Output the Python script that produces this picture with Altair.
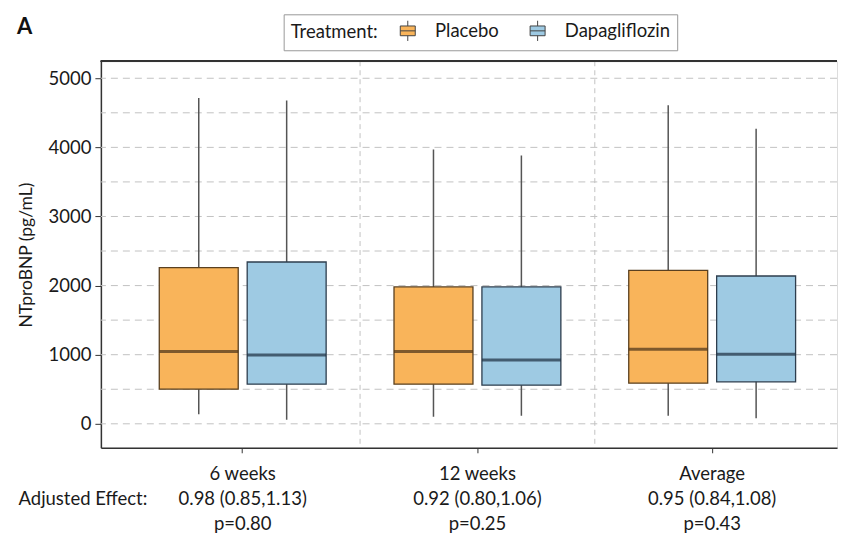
import altair as alt
import pandas as pd

times = ["6 weeks", "12 weeks", "Average"]
treatments = ["Placebo", "Dapagliflozin"]
effects = ["0.98 (0.85,1.13)", "0.92 (0.80,1.06)", "0.95 (0.84,1.08)"]
pvalues = ["p=0.80", "p=0.25", "p=0.43"]
panel_label = ["A"]

placebo_low = [140, 101, 116]
placebo_q1 = [501, 573, 588]
placebo_med = [1045, 1045, 1079]
placebo_q3 = [2259, 1980, 2221]
placebo_high = [4715, 3970, 4610]

dapa_low = [58, 116, 82]
dapa_q1 = [573, 559, 607]
dapa_med = [997, 925, 1007]
dapa_q3 = [2341, 1980, 2139]
dapa_high = [4678, 3883, 4268]

grid_values = [0, 500, 1000, 1500, 2000, 2500, 3000, 3500, 4000, 4500, 5000]
y_ticks = [0, 1000, 2000, 3000, 4000, 5000]
dividers = ["12 weeks", "Average"]

rows = []
for i, t in enumerate(times):
    rows.append(dict(Time=t, Treatment="Placebo", low=placebo_low[i], q1=placebo_q1[i],
                     med=placebo_med[i], q3=placebo_q3[i], high=placebo_high[i]))
    rows.append(dict(Time=t, Treatment="Dapagliflozin", low=dapa_low[i], q1=dapa_q1[i],
                     med=dapa_med[i], q3=dapa_q3[i], high=dapa_high[i]))
df = pd.DataFrame(rows)
grid_df = pd.DataFrame({"g": grid_values})
div_df = pd.DataFrame({"Time": dividers})
lab_df = pd.DataFrame({"t": panel_label})

FONT = "Lato"
FS = 18.5
W, H = 737, 387

label_expr = ""
for t, e, p in zip(times, effects, pvalues):
    label_expr += f"datum.label == '{t}' ? ['{t}', '{e}', '{p}'] : "
label_expr += "datum.label"

y_scale = alt.Scale(domain=[-347, 5246], nice=False, zero=False)
x_scale = alt.Scale(domain=times, paddingInner=0, paddingOuter=0.068, align=0.766)
xoff = alt.XOffset("Treatment:N", sort=treatments,
                   scale=alt.Scale(domain=treatments, paddingInner=0.102, paddingOuter=0.386))

x_enc = alt.X("Time:N", sort=times, scale=x_scale,
              axis=alt.Axis(title="Adjusted Effect:", labelExpr=label_expr, labelAngle=0,
                            labelAlign="center",
                            labelLineHeight=25, labelPadding=21, tickSize=5,
                            labelFontSize=FS, labelColor="#1a1a1a", titleFontSize=FS,
                            titleFontWeight="normal", titleColor="#1a1a1a",
                            titleAlign="right", titleAnchor="start", titleBaseline="middle",
                            titleX=46, titleY=51, domainColor="#333", domainWidth=1.5,
                            tickColor="#333", labelFont=FONT, titleFont=FONT))

base = alt.Chart(df)

grid = alt.Chart(grid_df).mark_rule(color="#c2c2c2", strokeDash=[7, 5], strokeWidth=1).encode(
    y=alt.Y("g:Q", scale=y_scale))

divs = alt.Chart(div_df).mark_rule(color="#c2c2c2", strokeDash=[5, 4], strokeWidth=1).encode(
    x=alt.X("Time:N", sort=times, scale=x_scale, bandPosition=0))

top_border = alt.Chart(grid_df).mark_rule(color="#333", strokeWidth=1.5).encode(
    y=alt.value(0))

panel = alt.Chart(lab_df).mark_text(font=FONT, fontSize=22, fontWeight="bold", color="#111",
                                    align="left", baseline="alphabetic").encode(
    text="t:N", x=alt.value(-84), y=alt.value(-27))

whiskers = base.mark_rule(color="#555", strokeWidth=1.5).encode(
    x=x_enc, xOffset=xoff,
    y=alt.Y("low:Q", scale=y_scale,
            axis=alt.Axis(title="NTproBNP (pg/mL)", values=y_ticks, grid=False, format="d",
                          labelFontSize=FS, titleFontSize=17.5, titleFontWeight="normal",
                          labelColor="#1a1a1a", titleColor="#1a1a1a", tickSize=6,
                          labelPadding=4, titlePadding=13, domainColor="#333",
                          domainWidth=1.5, tickColor="#333", labelFont=FONT, titleFont=FONT)),
    y2="high:Q")

boxes = base.mark_bar(strokeWidth=1.3).encode(
    x=x_enc, xOffset=xoff,
    y=alt.Y("q1:Q", scale=y_scale), y2="q3:Q",
    color=alt.Color("Treatment:N", sort=treatments,
                    scale=alt.Scale(domain=treatments, range=["#F9B45A", "#9ECAE3"]),
                    legend=alt.Legend(title="Treatment:", orient="none", direction="horizontal",
                                      legendX=183, legendY=-47, titleOrient="left",
                                      titleFontSize=FS, titleFontWeight="normal",
                                      labelFontSize=FS, titleColor="#1a1a1a",
                                      labelColor="#1a1a1a", titlePadding=20,
                                      labelOffset=18, columnPadding=28, padding=7,
                                      strokeColor="#999", fillColor="white",
                                      symbolType="M-1,-0.65H1V0.65H-1Z M-1,0H1 M0,-0.65V-1.35 M0,0.65V1.35",
                                      symbolSize=225, symbolStrokeColor="#444",
                                      symbolStrokeWidth=1, symbolOpacity=1,
                                      labelFont=FONT, titleFont=FONT)),
    stroke=alt.condition(alt.datum.Treatment == "Placebo", alt.value("#5a4020"), alt.value("#2e3e4e")))

medians = base.mark_tick(thickness=3, size=79).encode(
    x=x_enc, xOffset=xoff,
    y=alt.Y("med:Q", scale=y_scale),
    color=alt.condition(alt.datum.Treatment == "Placebo", alt.value("#4a3218"), alt.value("#1d2e3e")))

chart = alt.layer(grid, divs, top_border, whiskers, boxes, medians, panel).properties(
    width=W, height=H,
    padding={"left": 9, "top": 5, "right": 0, "bottom": 0},
).configure_view(stroke=None).configure(font=FONT)

chart.save("out.html", embed_options={"renderer": "svg", "actions": False})
